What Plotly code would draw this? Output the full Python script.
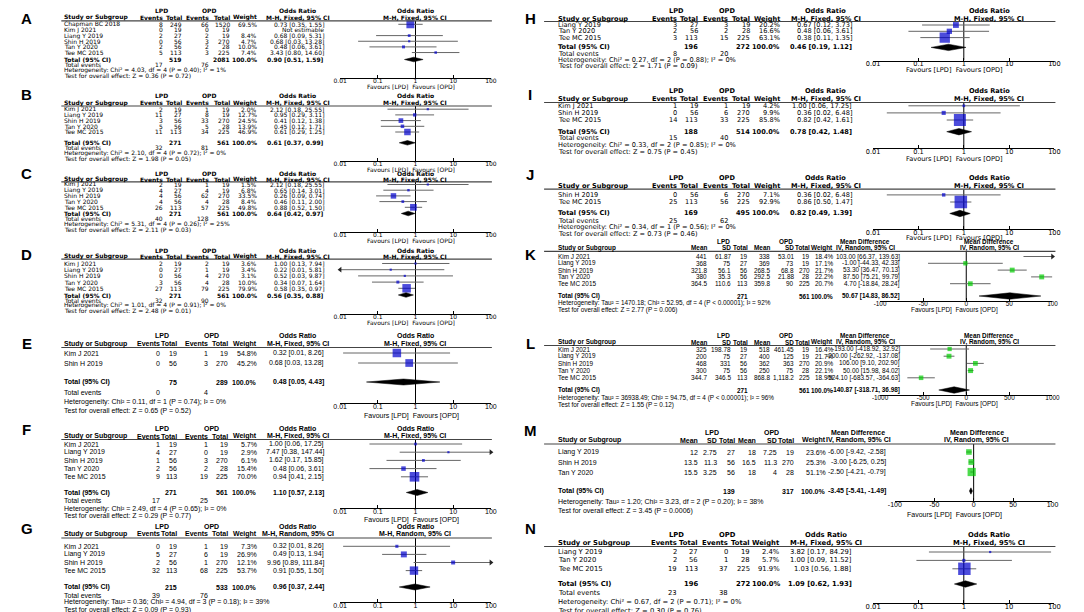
import math
import plotly.graph_objects as go

W, H = 1084, 612

# ---------------------------------------------------------------- DATA
# A
A_study = ["Chapman BC 2018", "Kim J 2021", "Liang Y 2019", "Shin H 2019", "Tan Y 2020", "Tee MC 2015"]
A_lpd_events = [8, 0, 2, 0, 2, 5]
A_lpd_total = [249, 19, 27, 56, 56, 113]
A_opd_events = [66, 0, 2, 3, 2, 3]
A_opd_total = [1520, 19, 19, 270, 28, 225]
A_weight = [69.5, None, 8.4, 4.7, 10.0, 7.4]
A_or = [0.73, None, 0.68, 0.68, 0.48, 3.43]
A_lo = [0.35, None, 0.09, 0.03, 0.06, 0.80]
A_hi = [1.55, None, 5.31, 13.28, 3.61, 14.60]
A_sum = [519, 2081, 0.90, 0.51, 1.59]
A_tot_events = [17, 76]
A_het = "Heterogeneity: Chi² = 4.03, df = 4 (P = 0.40); I² = 1%"
A_test = "Test for overall effect: Z = 0.36 (P = 0.72)"

# B
B_study = ["Kim J 2021", "Liang Y 2019", "Shin H 2019", "Tan Y 2020", "Tee MC 2015"]
B_lpd_events = [2, 11, 3, 5, 11]
B_lpd_total = [19, 27, 56, 56, 113]
B_opd_events = [1, 8, 33, 5, 34]
B_opd_total = [19, 19, 270, 28, 225]
B_weight = [2.0, 12.7, 24.5, 13.9, 46.9]
B_or = [2.12, 0.95, 0.41, 0.45, 0.61]
B_lo = [0.18, 0.29, 0.12, 0.12, 0.29]
B_hi = [25.55, 3.11, 1.38, 1.71, 1.25]
B_sum = [271, 561, 0.61, 0.37, 0.99]
B_tot_events = [32, 81]
B_het = "Heterogeneity: Chi² = 2.10, df = 4 (P = 0.72); I² = 0%"
B_test = "Test for overall effect: Z = 1.98 (P = 0.05)"

# C
C_study = ["Kim J 2021", "Liang Y 2019", "Shin H 2019", "Tan Y 2020", "Tee MC 2015"]
C_lpd_events = [2, 4, 4, 4, 26]
C_lpd_total = [19, 27, 56, 56, 113]
C_opd_events = [1, 4, 62, 4, 57]
C_opd_total = [19, 19, 270, 28, 225]
C_weight = [1.5, 6.8, 33.5, 8.4, 49.8]
C_or = [2.12, 0.65, 0.26, 0.46, 0.88]
C_lo = [0.18, 0.14, 0.09, 0.11, 0.52]
C_hi = [25.55, 3.01, 0.74, 2.00, 1.50]
C_sum = [271, 561, 0.64, 0.42, 0.97]
C_tot_events = [40, 128]
C_het = "Heterogeneity: Chi² = 5.31, df = 4 (P = 0.26); I² = 25%"
C_test = "Test for overall effect: Z = 2.11 (P = 0.03)"

# D
D_study = ["Kim J 2021", "Liang Y 2019", "Shin H 2019", "Tan Y 2020", "Tee MC 2015"]
D_lpd_events = [2, 0, 0, 3, 27]
D_lpd_total = [19, 27, 56, 56, 113]
D_opd_events = [2, 1, 4, 4, 79]
D_opd_total = [19, 19, 270, 28, 225]
D_weight = [3.6, 3.4, 3.1, 10.0, 79.9]
D_or = [1.00, 0.22, 0.52, 0.34, 0.58]
D_lo = [0.13, 0.0087, 0.03, 0.07, 0.35]
D_hi = [7.94, 5.81, 9.87, 1.64, 0.97]
D_sum = [271, 561, 0.56, 0.35, 0.88]
D_tot_events = [32, 90]
D_het = "Heterogeneity: Chi² = 1.01, df = 4 (P = 0.91); I² = 0%"
D_test = "Test for overall effect: Z = 2.48 (P = 0.01)"

# E
E_study = ["Kim J 2021", "Shin H 2019"]
E_lpd_events = [0, 0]
E_lpd_total = [19, 56]
E_opd_events = [1, 3]
E_opd_total = [19, 270]
E_weight = [54.8, 45.2]
E_or = [0.32, 0.68]
E_lo = [0.012, 0.03]
E_hi = [8.26, 13.28]
E_sum = [75, 289, 0.48, 0.05, 4.43]
E_tot_events = [0, 4]
E_het = "Heterogeneity: Chi² = 0.11, df = 1 (P = 0.74); I² = 0%"
E_test = "Test for overall effect: Z = 0.65 (P = 0.52)"

# F
F_study = ["Kim J 2021", "Liang Y 2019", "Shin H 2019", "Tan Y 2020", "Tee MC 2015"]
F_lpd_events = [1, 4, 1, 2, 9]
F_lpd_total = [19, 27, 56, 56, 113]
F_opd_events = [1, 0, 3, 2, 19]
F_opd_total = [19, 19, 270, 28, 225]
F_weight = [5.7, 2.9, 6.1, 15.4, 70.0]
F_or = [1.00, 7.47, 1.62, 0.48, 0.94]
F_lo = [0.06, 0.38, 0.17, 0.06, 0.41]
F_hi = [17.25, 147.44, 15.85, 3.61, 2.15]
F_sum = [271, 561, 1.10, 0.57, 2.13]
F_tot_events = [17, 25]
F_het = "Heterogeneity: Chi² = 2.49, df = 4 (P = 0.65); I² = 0%"
F_test = "Test for overall effect: Z = 0.29 (P = 0.77)"

# G
G_study = ["Kim J 2021", "Liang Y 2019", "Shin H 2019", "Tee MC 2015"]
G_lpd_events = [0, 5, 2, 32]
G_lpd_total = [19, 27, 56, 113]
G_opd_events = [1, 6, 1, 68]
G_opd_total = [19, 19, 270, 225]
G_weight = [7.3, 26.9, 12.1, 53.7]
G_or = [0.32, 0.49, 9.96, 0.91]
G_lo = [0.012, 0.13, 0.89, 0.55]
G_hi = [8.26, 1.94, 111.84, 1.50]
G_sum = [215, 533, 0.96, 0.37, 2.44]
G_tot_events = [39, 76]
G_het = "Heterogeneity: Tau² = 0.36; Chi² = 4.94, df = 3 (P = 0.18); I² = 39%"
G_test = "Test for overall effect: Z = 0.09 (P = 0.93)"

# H
H_study = ["Liang Y 2019", "Tan Y 2020", "Tee MC 2015"]
H_lpd_events = [3, 2, 3]
H_lpd_total = [27, 56, 113]
H_opd_events = [3, 2, 15]
H_opd_total = [19, 28, 225]
H_weight = [20.2, 16.6, 63.1]
H_or = [0.67, 0.48, 0.38]
H_lo = [0.12, 0.06, 0.11]
H_hi = [3.73, 3.61, 1.35]
H_sum = [196, 272, 0.46, 0.19, 1.12]
H_tot_events = [8, 20]
H_het = "Heterogeneity: Chi² = 0.27, df = 2 (P = 0.88); I² = 0%"
H_test = "Test for overall effect: Z = 1.71 (P = 0.09)"

# I
I_study = ["Kim J 2021", "Shin H 2019", "Tee MC 2015"]
I_lpd_events = [1, 0, 14]
I_lpd_total = [19, 56, 113]
I_opd_events = [1, 6, 33]
I_opd_total = [19, 270, 225]
I_weight = [4.2, 9.9, 85.8]
I_or = [1.00, 0.36, 0.82]
I_lo = [0.06, 0.02, 0.42]
I_hi = [17.25, 6.48, 1.61]
I_sum = [188, 514, 0.78, 0.42, 1.48]
I_tot_events = [15, 40]
I_het = "Heterogeneity: Chi² = 0.33, df = 2 (P = 0.85); I² = 0%"
I_test = "Test for overall effect: Z = 0.75 (P = 0.45)"

# J
J_study = ["Shin H 2019", "Tee MC 2015"]
J_lpd_events = [0, 25]
J_lpd_total = [56, 113]
J_opd_events = [6, 56]
J_opd_total = [270, 225]
J_weight = [7.1, 92.9]
J_or = [0.36, 0.86]
J_lo = [0.02, 0.50]
J_hi = [6.48, 1.47]
J_sum = [169, 495, 0.82, 0.49, 1.39]
J_tot_events = [25, 62]
J_het = "Heterogeneity: Chi² = 0.34, df = 1 (P = 0.56); I² = 0%"
J_test = "Test for overall effect: Z = 0.73 (P = 0.46)"

# K (mean difference)
K_study = ["Kim J 2021", "Liang Y 2019", "Shin H 2019", "Tan Y 2020", "Tee MC 2015"]
K_lpd_mean = [441, 368, 321.8, 380, 364.5]
K_lpd_sd = [61.87, 75, 56.1, 35.3, 110.6]
K_lpd_total = [19, 27, 56, 56, 113]
K_opd_mean = [338, 369, 268.5, 292.5, 359.8]
K_opd_sd = [53.01, 73, 68.8, 21.88, 90]
K_opd_total = [19, 19, 270, 28, 225]
K_weight = [18.4, 17.1, 21.7, 22.2, 20.7]
K_md = [103.00, -1.00, 53.30, 87.50, 4.70]
K_lo = [66.37, -44.33, 36.47, 75.21, -18.84]
K_hi = [139.63, 42.33, 70.13, 99.79, 28.24]
K_sum = [271, 561, 50.67, 14.83, 86.52]
K_het = "Heterogeneity: Tau² = 1470.18; Chi² = 52.95, df = 4 (P < 0.00001); I² = 92%"
K_test = "Test for overall effect: Z = 2.77 (P = 0.006)"

# L
L_study = ["Kim J 2021", "Liang Y 2019", "Shin H 2019", "Tan Y 2020", "Tee MC 2015"]
L_lpd_mean = [325, 200, 468, 300, 344.7]
L_lpd_sd = [198.78, 75, 331, 75, 346.5]
L_lpd_total = [19, 27, 56, 56, 113]
L_opd_mean = [518, 400, 362, 250, 868.8]
L_opd_sd = [461.45, 125, 363, 75, 1118.2]
L_opd_total = [19, 19, 270, 28, 225]
L_weight = [16.4, 21.7, 20.9, 22.1, 18.9]
L_md = [-193.00, -200.00, 106.00, 50.00, -524.10]
L_lo = [-418.92, -262.92, 9.10, 15.98, -683.57]
L_hi = [32.92, -137.08, 202.90, 84.02, -364.63]
L_sum = [271, 561, -140.87, -318.71, 36.98]
L_het = "Heterogeneity: Tau² = 36938.49; Chi² = 94.75, df = 4 (P < 0.00001); I² = 96%"
L_test = "Test for overall effect: Z = 1.55 (P = 0.12)"

# M
M_study = ["Liang Y 2019", "Shin H 2019", "Tan Y 2020"]
M_lpd_mean = [12, 13.5, 15.5]
M_lpd_sd = [2.75, 11.3, 3.25]
M_lpd_total = [27, 56, 56]
M_opd_mean = [18, 16.5, 18]
M_opd_sd = [7.25, 11.3, 4]
M_opd_total = [19, 270, 28]
M_weight = [23.6, 25.3, 51.1]
M_md = [-6.00, -3.00, -2.50]
M_lo = [-9.42, -6.25, -4.21]
M_hi = [-2.58, 0.25, -0.79]
M_sum = [139, 317, -3.45, -5.41, -1.49]
M_het = "Heterogeneity: Tau² = 1.20; Chi² = 3.23, df = 2 (P = 0.20); I² = 38%"
M_test = "Test for overall effect: Z = 3.45 (P = 0.0006)"

# N
N_study = ["Liang Y 2019", "Tan Y 2020", "Tee MC 2015"]
N_lpd_events = [2, 2, 19]
N_lpd_total = [27, 56, 113]
N_opd_events = [0, 1, 37]
N_opd_total = [19, 28, 225]
N_weight = [2.4, 5.7, 91.9]
N_or = [3.82, 1.00, 1.03]
N_lo = [0.17, 0.09, 0.56]
N_hi = [84.29, 11.52, 1.88]
N_sum = [196, 272, 1.09, 0.62, 1.93]
N_tot_events = [23, 38]
N_het = "Heterogeneity: Chi² = 0.67, df = 2 (P = 0.71); I² = 0%"
N_test = "Test for overall effect: Z = 0.30 (P = 0.76)"

OR_TICKS = [0.01, 0.1, 1, 10, 100]
OR_TICKTEXT = ["0.01", "0.1", "1", "10", "100"]
MD100_TICKS = [-100, -50, 0, 50, 100]
MD1000_TICKS = [-1000, -500, 0, 500, 1000]


# ---------------------------------------------------------------- builders
def or_panel(study, e1, n1, e2, n2, w, est, lo, hi, summ, tev, het, test,
             method="M-H, Fixed, 95% CI"):
    cells = [[str(e1[i]), str(n1[i]), str(e2[i]), str(n2[i]),
              (f"{w[i]:.1f}%" if w[i] is not None else "")] for i in range(len(study))]
    cis = [(f"{est[i]:.2f} [{lo[i]:.2f}, {hi[i]:.2f}]" if est[i] is not None else "Not estimable")
           for i in range(len(study))]
    return dict(kind="or", effect="Odds Ratio", method=method, study=study, cells=cells, cis=cis,
                w=w, est=est, lo=lo, hi=hi, summ=summ, tev=tev, het=het, test=test,
                tot_cols=(1, 3), ev_cols=(0, 2), xlim=(0.01, 100), ticks=OR_TICKS,
                ticktext=OR_TICKTEXT, null=1)


def md_panel(study, m1, s1, n1, m2, s2, n2, w, est, lo, hi, summ, het, test, ticks):
    f = lambda v: format(v, ",g")
    cells = [[f(m1[i]), f(s1[i]), str(n1[i]), f(m2[i]), f(s2[i]), str(n2[i]), f"{w[i]:.1f}%"]
             for i in range(len(study))]
    cis = [f"{est[i]:.2f} [{lo[i]:.2f}, {hi[i]:.2f}]" for i in range(len(study))]
    return dict(kind="md", effect="Mean Difference", method="IV, Random, 95% CI", study=study,
                cells=cells, cis=cis, w=w, est=est, lo=lo, hi=hi, summ=summ, tev=None, het=het,
                test=test, tot_cols=(2, 5), ev_cols=None, xlim=(ticks[0], ticks[-1]), ticks=ticks,
                ticktext=[str(t) for t in ticks], null=0)


panels = {
    "A": or_panel(A_study, A_lpd_events, A_lpd_total, A_opd_events, A_opd_total, A_weight, A_or, A_lo, A_hi, A_sum, A_tot_events, A_het, A_test),
    "B": or_panel(B_study, B_lpd_events, B_lpd_total, B_opd_events, B_opd_total, B_weight, B_or, B_lo, B_hi, B_sum, B_tot_events, B_het, B_test),
    "C": or_panel(C_study, C_lpd_events, C_lpd_total, C_opd_events, C_opd_total, C_weight, C_or, C_lo, C_hi, C_sum, C_tot_events, C_het, C_test),
    "D": or_panel(D_study, D_lpd_events, D_lpd_total, D_opd_events, D_opd_total, D_weight, D_or, D_lo, D_hi, D_sum, D_tot_events, D_het, D_test),
    "E": or_panel(E_study, E_lpd_events, E_lpd_total, E_opd_events, E_opd_total, E_weight, E_or, E_lo, E_hi, E_sum, E_tot_events, E_het, E_test),
    "F": or_panel(F_study, F_lpd_events, F_lpd_total, F_opd_events, F_opd_total, F_weight, F_or, F_lo, F_hi, F_sum, F_tot_events, F_het, F_test),
    "G": or_panel(G_study, G_lpd_events, G_lpd_total, G_opd_events, G_opd_total, G_weight, G_or, G_lo, G_hi, G_sum, G_tot_events, G_het, G_test, method="M-H, Random, 95% CI"),
    "H": or_panel(H_study, H_lpd_events, H_lpd_total, H_opd_events, H_opd_total, H_weight, H_or, H_lo, H_hi, H_sum, H_tot_events, H_het, H_test),
    "I": or_panel(I_study, I_lpd_events, I_lpd_total, I_opd_events, I_opd_total, I_weight, I_or, I_lo, I_hi, I_sum, I_tot_events, I_het, I_test),
    "J": or_panel(J_study, J_lpd_events, J_lpd_total, J_opd_events, J_opd_total, J_weight, J_or, J_lo, J_hi, J_sum, J_tot_events, J_het, J_test),
    "K": md_panel(K_study, K_lpd_mean, K_lpd_sd, K_lpd_total, K_opd_mean, K_opd_sd, K_opd_total, K_weight, K_md, K_lo, K_hi, K_sum, K_het, K_test, MD100_TICKS),
    "L": md_panel(L_study, L_lpd_mean, L_lpd_sd, L_lpd_total, L_opd_mean, L_opd_sd, L_opd_total, L_weight, L_md, L_lo, L_hi, L_sum, L_het, L_test, MD1000_TICKS),
    "M": md_panel(M_study, M_lpd_mean, M_lpd_sd, M_lpd_total, M_opd_mean, M_opd_sd, M_opd_total, M_weight, M_md, M_lo, M_hi, M_sum, M_het, M_test, MD100_TICKS),
    "N": or_panel(N_study, N_lpd_events, N_lpd_total, N_opd_events, N_opd_total, N_weight, N_or, N_lo, N_hi, N_sum, N_tot_events, N_het, N_test),
}

# ---------------------------------------------------------------- geometry (pixels)
G_LS = dict(fam="DejaVu Sans", fs=6.0, study=48, cols=[150, 170, 197, 218, 246], ci=314, cihdr=286,
            grp=[148, 196], fx=[329, 482], fhdr=405, fav=401, ul=[46, 483], box=0.95, diam=2.3,
            letter_x=11, color="#0000CC")
G_LL = dict(fam="Liberation Sans", fs=7, study=48, cols=[147, 164, 196, 216, 246], ci=314, cihdr=286,
            grp=[148, 198], fx=[329, 482], fhdr=405, fav=401, ul=[46, 483], box=1.15, diam=3,
            letter_x=11, color="#0000CC")
G_RO = dict(fam="DejaVu Sans", fs=6.6, study=549, cols=[672, 693, 724, 746, 776], ci=850, cihdr=822,
            grp=[670, 722], fx=[870, 1054], fhdr=988, fav=953, ul=[536, 1055], box=1.3, diam=3.2,
            letter_x=522, color="#0000CC")
G_RO2 = dict(G_RO, fs=6.8)
G_RK = dict(fam="Liberation Sans", fs=6.4, study=549, cols=[702, 727, 744, 766, 791, 807, 830], ci=898,
            cihdr=862, grp=[718, 782], fx=[877, 1052], fhdr=988, fav=953, ul=[536, 1055], box=1.05,
            diam=3.2, letter_x=522, color="#00CC00")
G_RM = dict(G_RK, fs=7, cols=[693, 713, 731, 752, 773, 791, 823], ci=884, cihdr=855,
            grp=[706, 767], fx=[892, 1052], fhdr=975, box=1.15)

V = {
    "A": dict(h1=3.0, h2=9.5, ul=12.8, r0=16.3, dr=5.65, tot=51.5, ev=56.7, het=61.9, test=67.1, ax=70, fav=78.5, let=10),
    "B": dict(h1=87.8, h2=94.8, ul=98, r0=101.2, dr=5.7, tot=134.8, ev=140.0, het=145.2, test=150.4, ax=153.2, fav=161.5, let=86.5),
    "C": dict(h1=165.3, h2=171.0, ul=173.8, r0=176.5, dr=5.7, tot=205.5, ev=210.7, het=215.9, test=221.1, ax=224.2, fav=232.5, let=166),
    "D": dict(h1=242.5, h2=248.2, ul=251.2, r0=255.5, dr=6.2, tot=287.0, ev=292.2, het=297.4, test=302.6, ax=305.8, fav=314.5, let=246),
    "E": dict(h1=327, h2=335.5, ul=339.5, r0=345, dr=10, tot=374, ev=384.5, het=394, test=403, ax=395, fav=408, let=335),
    "F": dict(h1=420.5, h2=428, ul=431.5, r0=436, dr=8.2, tot=484.5, ev=492.5, het=500.5, test=507.5, ax=500, fav=511.5, let=421),
    "G": dict(h1=518.5, h2=525.5, ul=530, r0=538.3, dr=8.1, tot=579, ev=587.3, het=594.3, test=601.7, ax=594, fav=607.5, let=520),
    "H": dict(h1=3, h2=10.5, ul=13.5, r0=17, dr=6.3, tot=39.4, ev=45.8, het=52.1, test=58, ax=52.5, fav=62.3, let=10),
    "I": dict(h1=83.5, h2=91, ul=94.5, r0=97.8, dr=7.1, tot=123.7, ev=130.4, het=137.3, test=144, ax=140, fav=151, let=86.5),
    "J": dict(h1=170, h2=177.8, ul=181.2, r0=186.9, dr=7.1, tot=205.5, ev=212.6, het=219.3, test=225.6, ax=221.3, fav=229.5, let=167),
    "K": dict(h1=233.5, h2=240, ul=243.3, r0=248.5, dr=6.8, tot=288, ev=None, het=295, test=302, ax=292.6, fav=302, let=246),
    "L": dict(h1=327, h2=334.5, ul=337.5, r0=341, dr=7.2, tot=382, ev=None, het=389.5, test=397, ax=386.8, fav=396, let=335),
    "M": dict(h1=424, h2=432, ul=436, r0=444, dr=10, tot=483, ev=None, het=493.5, test=503, ax=492.5, fav=507, let=422),
    "N": dict(h1=527, h2=535, ul=538.5, r0=544, dr=8.4, tot=576, ev=585, het=594, test=602.5, ax=595, fav=608, let=520),
}
GEOM = {"A": G_LS, "B": G_LS, "C": G_LS, "D": G_LS, "E": G_LL, "F": G_LL, "G": G_LL,
        "H": G_RO, "I": G_RO, "J": G_RO, "K": G_RK, "L": G_RK, "M": G_RM, "N": G_RO2}

annotations, shapes = [], []


def txt(x, y, s, anchor, size, fam, bold=False):
    annotations.append(dict(x=x / W, y=1 - y / H, xref="paper", yref="paper",
                            text=f"<b>{s}</b>" if bold else s, showarrow=False,
                            xanchor=anchor, yanchor="middle", borderpad=0,
                            font=dict(size=size, family=fam, color="#000")))


fig = go.Figure()
lay = {}

for n, key in enumerate(panels, start=1):
    P, Gm, Vv = panels[key], GEOM[key], V[key]
    xr, yr = ("x", "y") if n == 1 else (f"x{n}", f"y{n}")
    xk, yk = ("xaxis", "yaxis") if n == 1 else (f"xaxis{n}", f"yaxis{n}")
    fam, fs = Gm["fam"], Gm["fs"]

    def T(x, y, s, a="left", b=False):
        txt(x, y, s, a, fs, fam, b)

    txt(Gm["letter_x"], Vv["let"], key, "center", 15, "Liberation Sans", True)
    # headers
    T(Gm["grp"][0], Vv["h1"], "LPD", "center", True)
    T(Gm["grp"][1], Vv["h1"], "OPD", "center", True)
    T(Gm["cihdr"], Vv["h1"], P["effect"], "center", True)
    T(Gm["fhdr"], Vv["h1"], P["effect"], "center", True)
    T(Gm["study"], Vv["h2"], "Study or Subgroup", "left", True)
    hdrs = (["Mean", "SD", "Total", "Mean", "SD", "Total", "Weight"] if P["kind"] == "md"
            else ["Events", "Total", "Events", "Total", "Weight"])
    for x, h in zip(Gm["cols"], hdrs):
        T(x, Vv["h2"], h, "right", True)
    T(Gm["cihdr"], Vv["h2"], P["method"], "center", True)
    T(Gm["fhdr"], Vv["h2"], P["method"], "center", True)
    shapes.append(dict(type="line", xref="paper", yref="paper", x0=Gm["ul"][0] / W, x1=Gm["ul"][1] / W,
                       y0=1 - Vv["ul"] / H, y1=1 - Vv["ul"] / H, line=dict(color="#444", width=1.2)))

    # study rows
    ys = [Vv["r0"] + i * Vv["dr"] for i in range(len(P["study"]))]
    for i, y in enumerate(ys):
        T(Gm["study"], y, P["study"][i])
        for x, v in zip(Gm["cols"], P["cells"][i]):
            T(x, y, v, "right")
        T(Gm["ci"], y, P["cis"][i], "right")
    # totals
    s = P["summ"]
    T(Gm["study"], Vv["tot"], "Total (95% CI)", "left", True)
    T(Gm["cols"][P["tot_cols"][0]], Vv["tot"], str(s[0]), "right", True)
    T(Gm["cols"][P["tot_cols"][1]], Vv["tot"], str(s[1]), "right", True)
    T(Gm["cols"][-1], Vv["tot"], "100.0%", "right", True)
    T(Gm["ci"], Vv["tot"], f"{s[2]:.2f} [{s[3]:.2f}, {s[4]:.2f}]", "right", True)
    if P["tev"] is not None:
        T(Gm["study"], Vv["ev"], "Total events")
        T(Gm["cols"][P["ev_cols"][0]], Vv["ev"], str(P["tev"][0]), "right")
        T(Gm["cols"][P["ev_cols"][1]], Vv["ev"], str(P["tev"][1]), "right")
    T(Gm["study"], Vv["het"], P["het"])
    T(Gm["study"], Vv["test"], P["test"])
    T(Gm["fav"], Vv["fav"], "Favours [LPD]  Favours [OPD]", "center")

    # forest marks
    xmin, xmax = P["xlim"]
    cx, cy, bx, by, bs, al_x, al_y, ar_x, ar_y = [], [], [], [], [], [], [], [], []
    for i, y in enumerate(ys):
        if P["est"][i] is None:
            continue
        lo, hi = max(P["lo"][i], xmin), min(P["hi"][i], xmax)
        cx += [lo, hi, None]
        cy += [y, y, None]
        bx.append(P["est"][i])
        by.append(y)
        bs.append(max(2.2, Gm["box"] * math.sqrt(P["w"][i])))
        if P["lo"][i] < xmin:
            al_x.append(xmin); al_y.append(y)
        if P["hi"][i] > xmax:
            ar_x.append(xmax); ar_y.append(y)
    null = P["null"]
    fig.add_trace(go.Scatter(x=[null, null], y=[Vv["ul"], Vv["ax"]], mode="lines",
                             line=dict(color="#000", width=1), xaxis=xr, yaxis=yr,
                             hoverinfo="skip", showlegend=False, cliponaxis=False))
    fig.add_trace(go.Scatter(x=cx, y=cy, mode="lines", line=dict(color="#666", width=1),
                             xaxis=xr, yaxis=yr, hoverinfo="skip", showlegend=False, cliponaxis=False))
    fig.add_trace(go.Scatter(x=bx, y=by, mode="markers",
                             marker=dict(symbol="square", size=bs, color=Gm["color"], line=dict(width=0)),
                             xaxis=xr, yaxis=yr, showlegend=False, cliponaxis=False))
    if al_x:
        fig.add_trace(go.Scatter(x=al_x, y=al_y, mode="markers",
                                 marker=dict(symbol="triangle-left", size=5, color="#222"),
                                 xaxis=xr, yaxis=yr, showlegend=False, cliponaxis=False))
    if ar_x:
        fig.add_trace(go.Scatter(x=ar_x, y=ar_y, mode="markers",
                                 marker=dict(symbol="triangle-right", size=5, color="#222"),
                                 xaxis=xr, yaxis=yr, showlegend=False, cliponaxis=False))
    d = Gm["diam"]
    yt = Vv["tot"]
    fig.add_trace(go.Scatter(x=[s[3], s[2], s[4], s[2], s[3]], y=[yt, yt - d, yt, yt + d, yt],
                             mode="lines", fill="toself", fillcolor="#000", line=dict(color="#000", width=0.5),
                             xaxis=xr, yaxis=yr, hoverinfo="skip", showlegend=False))

    is_log = P["kind"] == "or"
    lay[xk] = dict(domain=[Gm["fx"][0] / W, Gm["fx"][1] / W], anchor=yr,
                   type="log" if is_log else "linear",
                   range=[math.log10(xmin), math.log10(xmax)] if is_log else [xmin, xmax],
                   tickmode="array", tickvals=P["ticks"], ticktext=P["ticktext"],
                   showline=True, linecolor="#000", linewidth=1, ticks="inside", ticklen=3,
                   tickcolor="#000", tickwidth=1, showgrid=False, zeroline=False, fixedrange=True,
                   ticklabelstandoff=-3,
                   tickfont=dict(size=fs, family=fam, color="#000"))
    lay[yk] = dict(domain=[1 - Vv["ax"] / H, 1 - Vv["ul"] / H], anchor=xr,
                   range=[Vv["ax"], Vv["ul"]], visible=False, fixedrange=True)

fig.update_layout(width=W, height=H, margin=dict(l=0, r=0, t=0, b=0),
                  paper_bgcolor="#fff", plot_bgcolor="rgba(0,0,0,0)",
                  annotations=annotations, shapes=shapes, showlegend=False, **lay)
fig.write_html("out.html")
